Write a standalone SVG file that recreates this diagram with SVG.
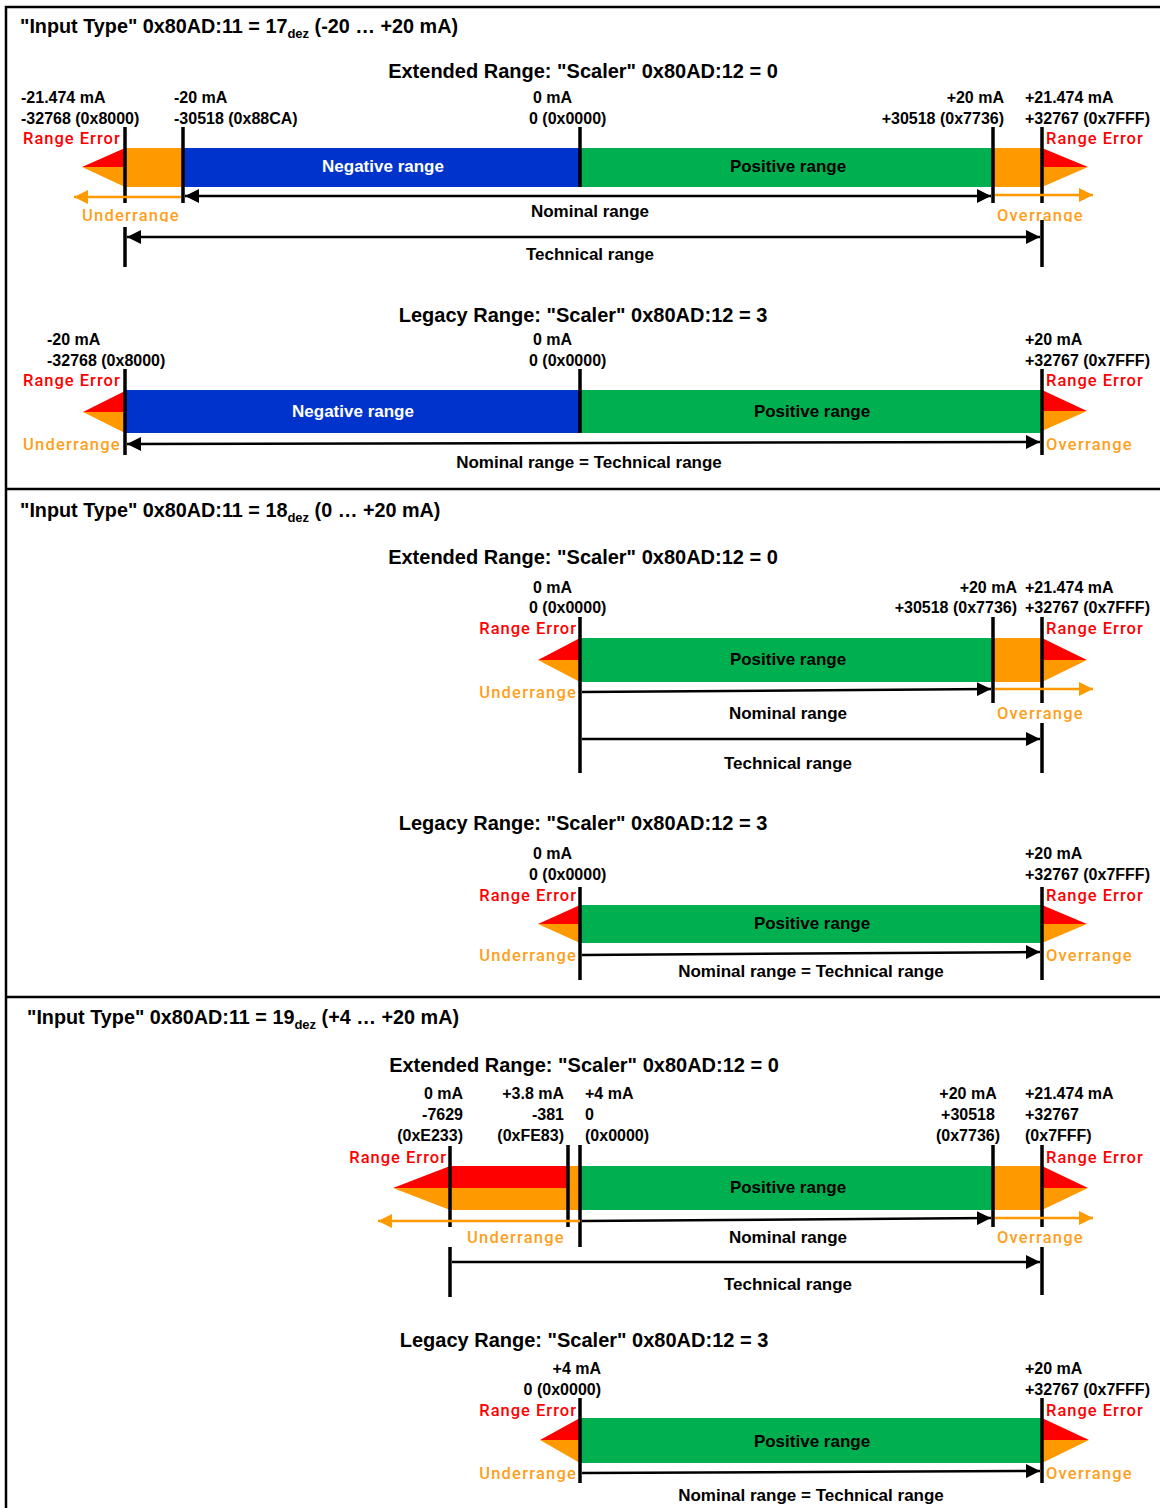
<svg xmlns="http://www.w3.org/2000/svg" width="1160" height="1508" viewBox="0 0 1160 1508">
<defs>
<style>
.t{font-family:"Liberation Sans",Arial,sans-serif;font-weight:bold;fill:#000}
.ti{font-size:19.8px}
.sb{font-size:20px}
.lb{font-size:16px}
.rl{font-size:17px}
.wh{fill:#fff}
.err{font-family:Roboto,"Liberation Sans",sans-serif;font-weight:500;font-size:16.5px;letter-spacing:1px;fill:#ff0000}
.und{font-family:Roboto,"Liberation Sans",sans-serif;font-weight:500;font-size:16.5px;letter-spacing:1.2px;fill:#ff9f1c}
.mid{text-anchor:middle}
.end{text-anchor:end}
.mk{stroke:#000;stroke-width:3.5;fill:none}
.ar{stroke:#000;stroke-width:2.5;fill:none;marker-end:url(#ah)}
.ar2{stroke:#000;stroke-width:2.5;fill:none;marker-end:url(#ah);marker-start:url(#ah)}
.oar{stroke:#ff9900;stroke-width:2.5;fill:none;marker-end:url(#oh)}
.red{fill:#ff0000}
.org{fill:#ff9900}
.blu{fill:#0033cc}
.grn{fill:#00b050}
.frame{stroke:#000;stroke-width:2.5;fill:none}
</style>
<marker id="ah" markerUnits="userSpaceOnUse" markerWidth="16" markerHeight="14" refX="14" refY="7" orient="auto-start-reverse"><path d="M0,0 L14,7 L0,14 z" fill="#000"/></marker>
<marker id="oh" markerUnits="userSpaceOnUse" markerWidth="16" markerHeight="14" refX="14" refY="7" orient="auto-start-reverse"><path d="M0,0 L14,7 L0,14 z" fill="#ff9900"/></marker>
<clipPath id="clip1"><rect x="0" y="0" width="1160" height="222"/></clipPath>
</defs>
<rect width="1160" height="1508" fill="#fff"/>

<g id="frame">
<rect class="frame" x="6" y="7" width="1160" height="1510"/>
<line class="frame" x1="6" y1="489" x2="1160" y2="489"/>
<line class="frame" x1="6" y1="997" x2="1160" y2="997"/>
</g>

<!-- Section 1 -->
<g id="sec1-title">
<text class="t ti" x="20" y="33">"Input Type" 0x80AD:11 = 17<tspan font-size="13" dy="5">dez</tspan><tspan dy="-5"> (-20 … +20 mA)</tspan></text>
</g>
<g id="sec1-extended">
<text class="t sb mid" x="583" y="78">Extended Range: "Scaler" 0x80AD:12 = 0</text>
<rect class="org" x="125" y="148" width="58" height="39"/>
<polygon class="red" points="82,167 125,148 125,167"/>
<polygon class="org" points="82,167 125,167 125,187"/>
<rect class="blu" x="183" y="148" width="397" height="39"/>
<rect class="grn" x="580" y="148" width="413" height="39"/>
<rect class="org" x="993" y="148" width="49" height="39"/>
<polygon class="red" points="1042,148 1088,167 1042,167"/>
<polygon class="org" points="1042,167 1088,167 1042,187"/>
<text class="t rl wh mid" x="383" y="172">Negative range</text>
<text class="t rl mid" x="788" y="172">Positive range</text>
<line class="mk" x1="125" y1="127" x2="125" y2="203"/>
<line class="mk" x1="125" y1="227" x2="125" y2="267"/>
<line class="mk" x1="183" y1="127" x2="183" y2="203"/>
<line class="mk" x1="580" y1="127" x2="580" y2="187"/>
<line class="mk" x1="993" y1="127" x2="993" y2="203"/>
<line class="mk" x1="1042" y1="127" x2="1042" y2="203"/>
<line class="mk" x1="1042" y1="220" x2="1042" y2="267"/>
<text class="t lb" x="21" y="103">-21.474 mA</text>
<text class="t lb" x="21" y="124">-32768 (0x8000)</text>
<text class="t lb" x="174" y="103">-20 mA</text>
<text class="t lb" x="174" y="124">-30518 (0x88CA)</text>
<text class="t lb" x="533" y="103">0 mA</text>
<text class="t lb" x="529" y="124">0 (0x0000)</text>
<text class="t lb end" x="1004" y="103">+20 mA</text>
<text class="t lb end" x="1004" y="124">+30518 (0x7736)</text>
<text class="t lb" x="1025" y="103">+21.474 mA</text>
<text class="t lb" x="1025" y="124">+32767 (0x7FFF)</text>
<text class="err" x="23" y="144">Range Error</text>
<text class="err" x="1046" y="144">Range Error</text>
<text class="und" x="82" y="221" clip-path="url(#clip1)">Underrange</text>
<text class="und" x="997" y="221" clip-path="url(#clip1)">Overrange</text>
<text class="t rl mid" x="590" y="217">Nominal range</text>
<text class="t rl mid" x="590" y="260">Technical range</text>
</g>
<g id="sec1-legacy">
<text class="t sb mid" x="583" y="322">Legacy Range: "Scaler" 0x80AD:12 = 3</text>
<polygon class="red" points="83,412 125,391 125,412"/>
<polygon class="org" points="83,412 125,412 125,433"/>
<rect class="blu" x="125" y="390" width="455" height="43"/>
<rect class="grn" x="580" y="390" width="462" height="43"/>
<polygon class="red" points="1042,390 1087,411 1042,411"/>
<polygon class="org" points="1042,411 1087,411 1042,431"/>
<text class="t rl wh mid" x="353" y="417">Negative range</text>
<text class="t rl mid" x="812" y="417">Positive range</text>
<line class="mk" x1="125" y1="369" x2="125" y2="455"/>
<line class="mk" x1="580" y1="369" x2="580" y2="433"/>
<line class="mk" x1="1042" y1="369" x2="1042" y2="455"/>
<text class="t lb" x="47" y="345">-20 mA</text>
<text class="t lb" x="47" y="366">-32768 (0x8000)</text>
<text class="t lb" x="533" y="345">0 mA</text>
<text class="t lb" x="529" y="366">0 (0x0000)</text>
<text class="t lb" x="1025" y="345">+20 mA</text>
<text class="t lb" x="1025" y="366">+32767 (0x7FFF)</text>
<text class="err" x="23" y="386">Range Error</text>
<text class="err" x="1046" y="386">Range Error</text>
<text class="und" x="23" y="450">Underrange</text>
<text class="und" x="1046" y="450">Overrange</text>
<text class="t rl mid" x="589" y="468">Nominal range = Technical range</text>
</g>

<!-- Section 2 -->
<g id="sec2-title">
<text class="t ti" x="20" y="517">"Input Type" 0x80AD:11 = 18<tspan font-size="13" dy="5">dez</tspan><tspan dy="-5"> (0 … +20 mA)</tspan></text>
</g>
<g id="sec2-extended">
<text class="t sb mid" x="583" y="564">Extended Range: "Scaler" 0x80AD:12 = 0</text>
<polygon class="red" points="538,660 580,638 580,660"/>
<polygon class="org" points="538,660 580,660 580,682"/>
<rect class="grn" x="580" y="638" width="413" height="44"/>
<rect class="org" x="993" y="638" width="49" height="44"/>
<polygon class="red" points="1042,638 1087,660 1042,660"/>
<polygon class="org" points="1042,660 1087,660 1042,682"/>
<text class="t rl mid" x="788" y="665">Positive range</text>
<line class="mk" x1="580" y1="617" x2="580" y2="773"/>
<line class="mk" x1="993" y1="617" x2="993" y2="703"/>
<line class="mk" x1="1042" y1="617" x2="1042" y2="703"/>
<line class="mk" x1="1042" y1="723" x2="1042" y2="773"/>
<text class="t lb" x="533" y="593">0 mA</text>
<text class="t lb" x="529" y="613">0 (0x0000)</text>
<text class="t lb end" x="1017" y="593">+20 mA</text>
<text class="t lb end" x="1017" y="613">+30518 (0x7736)</text>
<text class="t lb" x="1025" y="593">+21.474 mA</text>
<text class="t lb" x="1025" y="613">+32767 (0x7FFF)</text>
<text class="err end" x="577" y="634">Range Error</text>
<text class="err" x="1046" y="634">Range Error</text>
<text class="und end" x="577" y="698">Underrange</text>
<text class="und" x="997" y="719">Overrange</text>
<text class="t rl mid" x="788" y="719">Nominal range</text>
<text class="t rl mid" x="788" y="769">Technical range</text>
</g>
<g id="sec2-legacy">
<text class="t sb mid" x="583" y="830">Legacy Range: "Scaler" 0x80AD:12 = 3</text>
<polygon class="red" points="538,924 580,905 580,924"/>
<polygon class="org" points="538,924 580,924 580,943"/>
<rect class="grn" x="580" y="905" width="462" height="38"/>
<polygon class="red" points="1042,905 1087,924 1042,924"/>
<polygon class="org" points="1042,924 1087,924 1042,943"/>
<text class="t rl mid" x="812" y="929">Positive range</text>
<line class="mk" x1="580" y1="887" x2="580" y2="980"/>
<line class="mk" x1="1042" y1="887" x2="1042" y2="980"/>
<text class="t lb" x="533" y="859">0 mA</text>
<text class="t lb" x="529" y="880">0 (0x0000)</text>
<text class="t lb" x="1025" y="859">+20 mA</text>
<text class="t lb" x="1025" y="880">+32767 (0x7FFF)</text>
<text class="err end" x="577" y="901">Range Error</text>
<text class="err" x="1046" y="901">Range Error</text>
<text class="und end" x="577" y="961">Underrange</text>
<text class="und" x="1046" y="961">Overrange</text>
<text class="t rl mid" x="811" y="977">Nominal range = Technical range</text>
</g>

<!-- Section 3 -->
<g id="sec3-title">
<text class="t ti" x="27" y="1024">"Input Type" 0x80AD:11 = 19<tspan font-size="13" dy="5">dez</tspan><tspan dy="-5"> (+4 … +20 mA)</tspan></text>
</g>
<g id="sec3-extended">
<text class="t sb mid" x="584" y="1072">Extended Range: "Scaler" 0x80AD:12 = 0</text>
<polygon class="red" points="393,1188 450,1166 450,1188"/>
<polygon class="org" points="393,1188 450,1188 450,1210"/>
<rect class="red" x="450" y="1166" width="118" height="22"/>
<rect class="org" x="450" y="1188" width="118" height="22"/>
<rect class="org" x="568" y="1166" width="12" height="44"/>
<rect class="grn" x="580" y="1166" width="413" height="44"/>
<rect class="org" x="993" y="1166" width="49" height="44"/>
<polygon class="red" points="1042,1166 1088,1188 1042,1188"/>
<polygon class="org" points="1042,1188 1088,1188 1042,1210"/>
<text class="t rl mid" x="788" y="1193">Positive range</text>
<line class="mk" x1="450" y1="1146" x2="450" y2="1227"/>
<line class="mk" x1="450" y1="1247" x2="450" y2="1297"/>
<line class="mk" x1="568" y1="1145" x2="568" y2="1227"/>
<line class="mk" x1="580" y1="1145" x2="580" y2="1247"/>
<line class="mk" x1="993" y1="1145" x2="993" y2="1227"/>
<line class="mk" x1="1042" y1="1145" x2="1042" y2="1227"/>
<line class="mk" x1="1042" y1="1247" x2="1042" y2="1295"/>
<text class="t lb end" x="463" y="1099">0 mA</text>
<text class="t lb end" x="463" y="1120">-7629</text>
<text class="t lb end" x="463" y="1141">(0xE233)</text>
<text class="t lb end" x="564" y="1099">+3.8 mA</text>
<text class="t lb end" x="564" y="1120">-381</text>
<text class="t lb end" x="564" y="1141">(0xFE83)</text>
<text class="t lb" x="585" y="1099">+4 mA</text>
<text class="t lb" x="585" y="1120">0</text>
<text class="t lb" x="585" y="1141">(0x0000)</text>
<text class="t lb mid" x="968" y="1099">+20 mA</text>
<text class="t lb mid" x="968" y="1120">+30518</text>
<text class="t lb mid" x="968" y="1141">(0x7736)</text>
<text class="t lb" x="1025" y="1099">+21.474 mA</text>
<text class="t lb" x="1025" y="1120">+32767</text>
<text class="t lb" x="1025" y="1141">(0x7FFF)</text>
<text class="err end" x="447" y="1163">Range Error</text>
<text class="err" x="1046" y="1163">Range Error</text>
<text class="und" x="467" y="1243">Underrange</text>
<text class="und" x="997" y="1243">Overrange</text>
<text class="t rl mid" x="788" y="1243">Nominal range</text>
<text class="t rl mid" x="788" y="1290">Technical range</text>
</g>
<g id="sec3-legacy">
<text class="t sb mid" x="584" y="1347">Legacy Range: "Scaler" 0x80AD:12 = 3</text>
<polygon class="red" points="540,1440 580,1418 580,1440"/>
<polygon class="org" points="540,1440 580,1440 580,1463"/>
<rect class="grn" x="580" y="1418" width="462" height="45"/>
<polygon class="red" points="1042,1418 1089,1440 1042,1440"/>
<polygon class="org" points="1042,1440 1089,1440 1042,1463"/>
<text class="t rl mid" x="812" y="1447">Positive range</text>
<line class="mk" x1="580" y1="1398" x2="580" y2="1483"/>
<line class="mk" x1="1042" y1="1398" x2="1042" y2="1483"/>
<text class="t lb end" x="601" y="1374">+4 mA</text>
<text class="t lb end" x="601" y="1395">0 (0x0000)</text>
<text class="t lb" x="1025" y="1374">+20 mA</text>
<text class="t lb" x="1025" y="1395">+32767 (0x7FFF)</text>
<text class="err end" x="577" y="1416">Range Error</text>
<text class="err" x="1046" y="1416">Range Error</text>
<text class="und end" x="577" y="1479">Underrange</text>
<text class="und" x="1046" y="1479">Overrange</text>
<text class="t rl mid" x="811" y="1501">Nominal range = Technical range</text>
</g>

<g id="connectors">
<line class="ar2" x1="185" y1="196" x2="991" y2="196"/>
<line class="ar2" x1="127" y1="237" x2="1040" y2="237"/>
<line class="oar" x1="181" y1="197" x2="74" y2="197"/>
<line class="oar" x1="995" y1="195" x2="1093" y2="195"/>
<line class="ar2" x1="127" y1="444" x2="1040" y2="442"/>
<line class="ar" x1="582" y1="692" x2="991" y2="689"/>
<line class="oar" x1="995" y1="689" x2="1093" y2="689"/>
<line class="ar" x1="582" y1="739" x2="1040" y2="739"/>
<line class="ar" x1="582" y1="955" x2="1040" y2="952"/>
<line class="oar" x1="580" y1="1221" x2="378" y2="1221"/>
<line class="ar" x1="582" y1="1221" x2="991" y2="1218"/>
<line class="oar" x1="995" y1="1218" x2="1093" y2="1218"/>
<line class="ar" x1="452" y1="1262" x2="1040" y2="1262"/>
<line class="ar" x1="582" y1="1473" x2="1040" y2="1471"/>
</g>
</svg>
